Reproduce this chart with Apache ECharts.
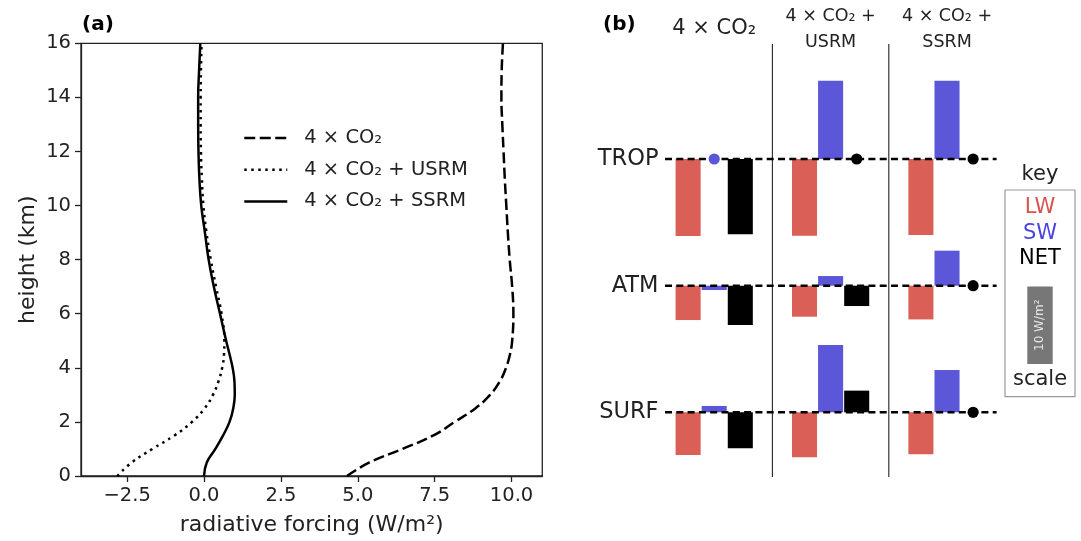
<!DOCTYPE html>
<html><head><meta charset="utf-8">
<script src="https://cdn.jsdelivr.net/npm/echarts@6/dist/echarts.min.js"></script>
<style>html,body{margin:0;padding:0;background:#fff}#c{width:1081px;height:541px}</style>
</head><body><div id="c"></div>
<script>
// ---------- panel (a) data ----------
const heights     = [0, 0.5, 1, 1.5, 2, 2.5, 3, 3.5, 4, 4.5, 5, 6, 7, 8, 9, 10, 11, 12, 13, 14, 15, 16];
const forcingCO2  = [4.65, 5.38, 6.45, 7.46, 8.15, 8.82, 9.30, 9.62, 9.82, 9.95, 10.02, 10.06, 10.02, 9.94, 9.88, 9.83, 9.78, 9.74, 9.70, 9.67, 9.68, 9.72];
const forcingUSRM = [-2.82, -2.35, -1.68, -0.96, -0.39, 0.02, 0.29, 0.47, 0.59, 0.65, 0.66, 0.57, 0.39, 0.22, 0.08, -0.02, -0.07, -0.10, -0.11, -0.11, -0.10, -0.08];
const forcingSSRM = [0.00, 0.09, 0.37, 0.62, 0.83, 0.95, 1.00, 0.99, 0.93, 0.83, 0.72, 0.52, 0.32, 0.15, 0.03, -0.09, -0.15, -0.18, -0.19, -0.19, -0.16, -0.12];
const seriesNames = ['4 × CO₂', '4 × CO₂ + USRM', '4 × CO₂ + SSRM'];
const xTicks = [-2.5, 0, 2.5, 5, 7.5, 10];
const yTicks = [0, 2, 4, 6, 8, 10, 12, 14, 16];

// ---------- panel (b) data (W/m², order: TROP, ATM, SURF) ----------
const scenarios = ['4 × CO₂', '4 × CO₂ +\nUSRM', '4 × CO₂ +\nSSRM'];
const levels = ['TROP', 'ATM', 'SURF'];
const lwCO2  = [-9.96, -4.44, -5.52];
const lwUSRM = [-9.92, -4.01, -5.82];
const lwSSRM = [-9.83, -4.36, -5.43];
const swCO2  = [0, -0.56, 0.82];
const swUSRM = [10.13, 1.25, 8.71];
const swSSRM = [10.13, 4.53, 5.47];
const netCO2  = [-9.75, -5.09, -4.66];
const netUSRM = [0, -2.63, 2.80];
const netSSRM = [0, 0, 0];
const scaleValue = [10];

// ---------- styling / layout ----------
const FONT = 'DejaVu Sans';
const TXT = '#222';
const RED = '#d95f57', BLUE = '#5c56d8', BLACK = '#000';
const RED_T = '#d9534f', BLUE_T = '#4b44e0';
const levelBase = [41.13, 24.74, 8.37];
const groupStart = 1.0, groupStep = 4.46, barW = 0.96;
const lineX0 = 0.115, lineX1 = 12.82;

const chart = echarts.init(document.getElementById('c'));
const fmt = v => (v < 0 ? '−' : '') + Math.abs(v).toFixed(1);

function lineSeries(name, vals, dash) {
  return {
    type: 'line', name, xAxisIndex: 0, yAxisIndex: 0,
    data: heights.map((h, i) => [vals[i], h]),
    symbol: 'none', showSymbol: false, smooth: 0.45,
    itemStyle: { color: '#000' },
    lineStyle: { color: '#000', width: 2.5, type: dash }, z: 3
  };
}
function comps(arrs) {
  const out = [];
  arrs.forEach((arr, g) => arr.forEach((v, l) => out.push([g, l, v])));
  return out;
}
function barSeries(name, c, color, arrs) {
  return {
    type: 'custom', name, xAxisIndex: 1, yAxisIndex: 1, z: 2, clip: false, silent: true,
    data: comps(arrs),
    renderItem: (p, api) => {
      const g = api.value(0), l = api.value(1), v = api.value(2);
      if (v === 0) return null;
      const cx = groupStart + g * groupStep + c;
      const p0 = api.coord([cx, levelBase[l]]);
      const p1 = api.coord([cx, levelBase[l] + v]);
      const w = api.size([barW, 0])[0];
      return { type: 'rect', shape: { x: p0[0] - w / 2, y: Math.min(p0[1], p1[1]), width: w, height: Math.abs(p1[1] - p0[1]) }, style: { fill: color } };
    }
  };
}
const allComps = [[lwCO2, lwUSRM, lwSSRM], [swCO2, swUSRM, swSSRM], [netCO2, netUSRM, netSSRM]];
const compColors = [RED, BLUE, BLACK];
const zeroItems = [];
allComps.forEach((arrs, c) => comps(arrs).forEach(d => { if (d[2] === 0) zeroItems.push([d[0], d[1], c]); }));

const series = [
  lineSeries(seriesNames[0], forcingCO2, [11, 4.5]),
  lineSeries(seriesNames[1], forcingUSRM, [2.5, 4.5]),
  lineSeries(seriesNames[2], forcingSSRM, 'solid'),
  barSeries('LW', 0, RED, allComps[0]),
  barSeries('SW', 1, BLUE, allComps[1]),
  barSeries('NET', 2, BLACK, allComps[2]),
  { // separators between scenarios
    type: 'custom', xAxisIndex: 1, yAxisIndex: 1, z: 1, clip: false, silent: true,
    data: [[1], [2]],
    renderItem: (p, api) => {
      const xm = groupStart + api.value(0) * groupStep - (groupStep - 2) / 2;
      const a = api.coord([xm, 56]), b = api.coord([xm, 0]);
      return { type: 'line', shape: { x1: a[0], y1: a[1], x2: b[0], y2: b[1] }, style: { stroke: '#222', lineWidth: 1.1 } };
    }
  },
  { // dashed zero lines + level labels
    type: 'custom', xAxisIndex: 1, yAxisIndex: 1, z: 3, clip: false, silent: true,
    data: levels.map((_, i) => [i]),
    renderItem: (p, api) => {
      const l = api.value(0);
      const a = api.coord([lineX0, levelBase[l]]), b = api.coord([lineX1, levelBase[l]]);
      return { type: 'group', children: [
        { type: 'line', shape: { x1: a[0], y1: a[1], x2: b[0], y2: b[1] }, style: { stroke: '#000', lineWidth: 2.5, lineDash: [7, 4.3] } },
        { type: 'text', x: a[0] - 6.5, y: a[1], style: { text: levels[l], fontSize: 22.5, fontFamily: FONT, fill: TXT, align: 'right', verticalAlign: 'middle' } }
      ] };
    }
  },
  { // dots for negligible values
    type: 'custom', xAxisIndex: 1, yAxisIndex: 1, z: 4, clip: false, silent: true,
    data: zeroItems,
    renderItem: (p, api) => {
      const g = api.value(0), l = api.value(1), c = api.value(2);
      const pt = api.coord([groupStart + g * groupStep + c, levelBase[l]]);
      return { type: 'circle', shape: { cx: pt[0], cy: pt[1], r: 5.6 }, style: { fill: compColors[c] } };
    }
  },
  { // scenario titles
    type: 'custom', xAxisIndex: 1, yAxisIndex: 1, z: 4, clip: false, silent: true,
    data: scenarios.map((_, i) => [i]),
    renderItem: (p, api) => {
      const g = api.value(0);
      const pt = api.coord([groupStart + g * groupStep + 1, 0]);
      const single = scenarios[g].indexOf('\n') < 0;
      return { type: 'text', x: pt[0], y: single ? 29 : 29.5, style: { text: scenarios[g], fontSize: single ? 21 : 17.5, lineHeight: 26, fontFamily: FONT, fill: TXT, align: 'center', verticalAlign: 'middle' } };
    }
  },
  { // scale bar in key
    type: 'custom', xAxisIndex: 1, yAxisIndex: 1, z: 4, clip: false, silent: true,
    data: scaleValue.map(v => [v]),
    renderItem: (p, api) => {
      const h = api.size([0, api.value(0)])[1];
      const x = 1027.3, y = 286.6, w = 25.4;
      return { type: 'group', children: [
        { type: 'rect', shape: { x, y, width: w, height: h }, style: { fill: '#777' } },
        { type: 'text', x: x + w / 2, y: y + h / 2, rotation: Math.PI / 2, style: { text: '10 W/m²', fontSize: 12, fontFamily: FONT, fill: '#e8e8e8', align: 'center', verticalAlign: 'middle' } }
      ] };
    }
  }
];

const option = {
  animation: false,
  color: ['#000', '#000', '#000'],
  textStyle: { fontFamily: FONT },
  grid: [
    { left: 81, top: 43.3, width: 461.3, height: 434, show: true, borderColor: '#222', borderWidth: 1.3, backgroundColor: 'transparent' },
    { left: 662, top: 44, width: 339.3, height: 433, show: false }
  ],
  xAxis: [
    { gridIndex: 0, type: 'value', min: -4, max: 11,
      axisLine: { show: true, onZero: false, lineStyle: { color: '#222', width: 1.3 } },
      axisTick: { show: true, customValues: xTicks, length: 6, lineStyle: { color: '#222', width: 1.3 } },
      axisLabel: { customValues: xTicks, formatter: fmt, fontSize: 19.5, color: TXT, margin: 10, fontFamily: FONT },
      splitLine: { show: false },
      name: 'radiative forcing (W/m²)', nameLocation: 'middle', nameGap: 38,
      nameTextStyle: { fontSize: 22, color: TXT, fontFamily: FONT } },
    { gridIndex: 1, type: 'value', min: 0, max: 13, show: false }
  ],
  yAxis: [
    { gridIndex: 0, type: 'value', min: 0, max: 16, interval: 2,
      axisLine: { show: true, onZero: false, lineStyle: { color: '#222', width: 1.3 } },
      axisTick: { show: true, customValues: yTicks, length: 6, lineStyle: { color: '#222', width: 1.3 } },
      axisLabel: { customValues: yTicks, fontSize: 19.5, color: TXT, margin: 10, fontFamily: FONT },
      splitLine: { show: false },
      name: 'height (km)', nameLocation: 'middle', nameGap: 42,
      nameTextStyle: { fontSize: 22, color: TXT, fontFamily: FONT } },
    { gridIndex: 1, type: 'value', min: 0, max: 56, show: false }
  ],
  legend: {
    data: seriesNames, orient: 'vertical', left: 238, top: 123,
    itemWidth: 43, itemHeight: 14, itemGap: 11.7,
    itemStyle: { opacity: 0 },
    lineStyle: { width: 2.5 },
    textStyle: { fontSize: 19.5, lineHeight: 20, color: TXT, fontFamily: FONT, padding: [0, 0, 0, 12] }
  },
  graphic: [
    { type: 'text', x: 82, y: 25, style: { text: '(a)', fontSize: 20, fontWeight: 'bold', fontFamily: FONT, fill: '#000', verticalAlign: 'middle' } },
    { type: 'text', x: 603, y: 25, style: { text: '(b)', fontSize: 20, fontWeight: 'bold', fontFamily: FONT, fill: '#000', verticalAlign: 'middle' } },
    { type: 'rect', shape: { x: 1005, y: 190, width: 70, height: 206.7 }, style: { fill: 'none', stroke: '#999', lineWidth: 1.2 } },
    { type: 'text', x: 1040, y: 175, style: { text: 'key', fontSize: 21, fontFamily: FONT, fill: TXT, align: 'center', verticalAlign: 'middle' } },
    { type: 'text', x: 1040, y: 208, style: { text: 'LW', fontSize: 21, fontFamily: FONT, fill: RED_T, align: 'center', verticalAlign: 'middle' } },
    { type: 'text', x: 1040, y: 233.5, style: { text: 'SW', fontSize: 21, fontFamily: FONT, fill: BLUE_T, align: 'center', verticalAlign: 'middle' } },
    { type: 'text', x: 1040, y: 259, style: { text: 'NET', fontSize: 21, fontFamily: FONT, fill: '#000', align: 'center', verticalAlign: 'middle' } },
    { type: 'text', x: 1040, y: 380, style: { text: 'scale', fontSize: 21, fontFamily: FONT, fill: TXT, align: 'center', verticalAlign: 'middle' } }
  ],
  series
};
chart.setOption(option);
</script></body></html>
